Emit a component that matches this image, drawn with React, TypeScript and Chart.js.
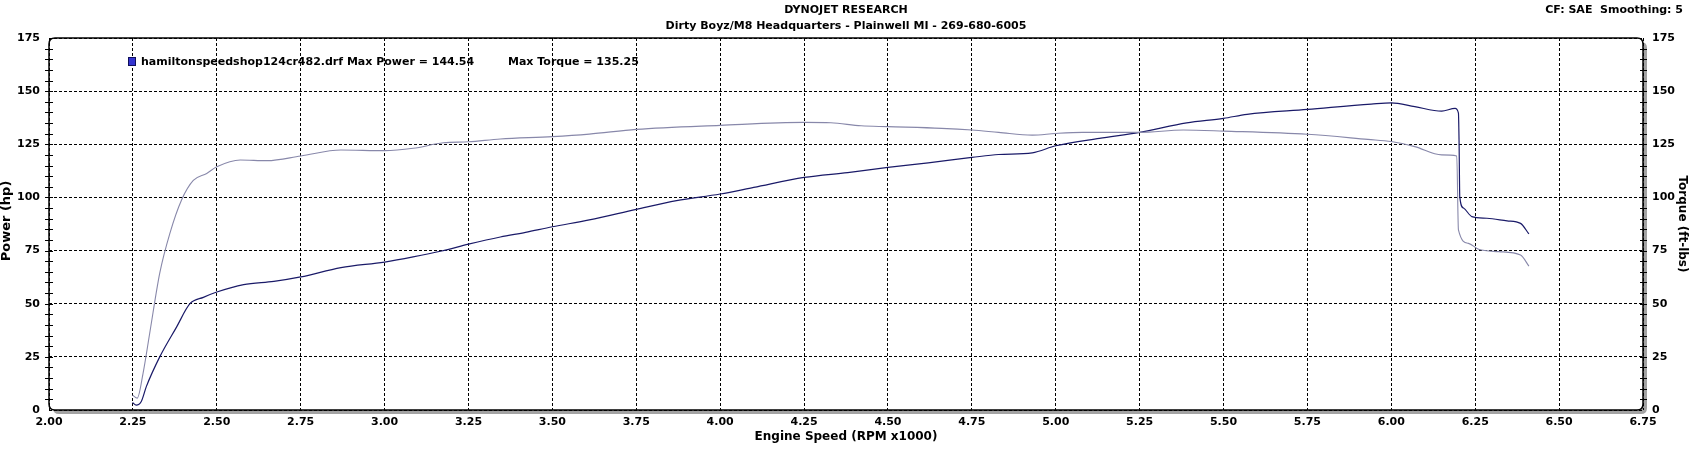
import React, { useEffect, useRef } from 'react';
import { Chart, registerables } from 'chart.js';

Chart.register(...registerables);
Chart.defaults.font.family = '"DejaVu Sans", Verdana, sans-serif';

// ---- data ----
const powerRpm = [
  2.249, 2.26, 2.275, 2.29, 2.33, 2.38, 2.42, 2.46, 2.5, 2.58, 2.67, 2.75, 2.87, 3.0, 3.085, 3.17, 3.25,
  3.345, 3.42, 3.5, 3.61, 3.75, 3.87, 4.0, 4.1, 4.25, 4.38, 4.5, 4.62, 4.75, 4.83, 4.93, 5.0, 5.13, 5.25,
  5.39, 5.5, 5.57, 5.75, 5.94, 6.0, 6.07, 6.15, 6.19, 6.2, 6.202, 6.204, 6.215, 6.24, 6.285, 6.345, 6.385, 6.41,
];
const powerHp = [
  3.5, 2.3, 4, 11, 25, 39, 50, 53, 55.5, 59, 60.5, 62.6, 67, 69.6, 72, 74.8, 78,
  81.4, 83.6, 86.2, 89.4, 94.4, 98.5, 101.6, 104.7, 109.4, 111.7, 114.1, 116.3, 118.8, 120.2, 121, 124.3, 127.8, 130.6,
  135.1, 137.2, 139.1, 141.4, 143.9, 144.5, 142.7, 140.6, 141.9, 139.7, 125, 100.3, 95, 91, 90.2, 89, 87.8, 82.8,
];

const torqueRpm = [
  2.249, 2.263, 2.28, 2.3, 2.33, 2.36, 2.395, 2.43, 2.47, 2.5, 2.57, 2.65, 2.75, 2.87, 3.0, 3.085, 3.175,
  3.25, 3.345, 3.5, 3.61, 3.75, 4.0, 4.25, 4.33, 4.42, 4.5, 4.66, 4.75, 4.83, 4.93, 5.0, 5.08, 5.25, 5.38,
  5.5, 5.75, 5.93, 6.0, 6.07, 6.15, 6.195, 6.2, 6.23, 6.26, 6.32, 6.385, 6.41,
];
const torqueFtLbs = [
  7, 5.6, 17, 36, 64.4, 83, 98.8, 108, 111.3, 114.4, 117.6, 117.3, 119.5, 122.3, 122, 123.1, 125.7,
  126.2, 127.5, 128.6, 129.8, 132, 133.9, 135.3, 135.1, 133.7, 133.3, 132.5, 131.7, 130.6, 129.3, 130.1, 130.6, 130.6, 131.7,
  131.2, 129.7, 127.3, 126.3, 123.9, 120, 119.5, 84.7, 78.4, 75.6, 74.5, 72.9, 67.7,
];

const rpmTicks = [2, 2.25, 2.5, 2.75, 3, 3.25, 3.5, 3.75, 4, 4.25, 4.5, 4.75, 5, 5.25, 5.5, 5.75, 6, 6.25, 6.5, 6.75];
const valueTicks = [0, 25, 50, 75, 100, 125, 150, 175];

const POWER_COLOR = '#1a1a68';
const TORQUE_COLOR = '#8888aa';
const BOLD11 = 'bold 11px "DejaVu Sans", Verdana, sans-serif';

const roundRectPath = (ctx: CanvasRenderingContext2D, x: number, y: number, w: number, h: number, r: number) => {
  ctx.beginPath();
  ctx.moveTo(x + r, y);
  ctx.lineTo(x + w - r, y);
  ctx.quadraticCurveTo(x + w, y, x + w, y + r);
  ctx.lineTo(x + w, y + h - r);
  ctx.quadraticCurveTo(x + w, y + h, x + w - r, y + h);
  ctx.lineTo(x + r, y + h);
  ctx.quadraticCurveTo(x, y + h, x, y + h - r);
  ctx.lineTo(x, y + r);
  ctx.quadraticCurveTo(x, y, x + r, y);
  ctx.closePath();
};

// frame, shadow, minor ticks and all the sheet texts
const dynoSheet = {
  id: 'dynoSheet',
  beforeDraw(chart: Chart) {
    const { ctx, chartArea: a } = chart;
    const w = a.right - a.left;
    const h = a.bottom - a.top;
    ctx.save();
    ctx.fillStyle = '#a3a3a3';
    roundRectPath(ctx, a.left + 4, a.top + 4, w, h, 6);
    ctx.fill();
    ctx.fillStyle = '#ffffff';
    roundRectPath(ctx, a.left, a.top, w, h, 6);
    ctx.fill();
    ctx.restore();
  },
  afterDraw(chart: Chart) {
    const { ctx, chartArea: a } = chart;
    const y = chart.scales.y;
    ctx.save();
    ctx.strokeStyle = '#000';
    ctx.lineWidth = 1.5;
    roundRectPath(ctx, a.left, a.top, a.right - a.left, a.bottom - a.top, 6);
    ctx.stroke();

    // minor ticks every 5 on both value axes
    ctx.lineWidth = 1;
    ctx.beginPath();
    for (let v = 5; v < 175; v += 5) {
      const py = Math.round(y.getPixelForValue(v)) + 0.5;
      ctx.moveTo(a.left - 4, py);
      ctx.lineTo(a.left + 4, py);
      ctx.moveTo(a.right - 3, py);
      ctx.lineTo(a.right + 4, py);
    }
    ctx.stroke();

    ctx.fillStyle = '#000';
    ctx.font = BOLD11;
    ctx.textBaseline = 'middle';
    ctx.textAlign = 'center';
    ctx.fillText('DYNOJET RESEARCH', 846, 10);
    ctx.fillText('Dirty Boyz/M8 Headquarters - Plainwell MI - 269-680-6005', 846, 26);
    ctx.textAlign = 'right';
    ctx.fillText('CF: SAE  Smoothing: 5', 1683, 10);

    // legend
    ctx.fillStyle = '#3434d0';
    ctx.fillRect(128, 57, 8, 9);
    ctx.strokeStyle = '#10105a';
    ctx.strokeRect(128.5, 57.5, 7, 8);
    ctx.fillStyle = '#000';
    ctx.textAlign = 'left';
    ctx.fillText('hamiltonspeedshop124cr482.drf Max Power = 144.54', 141, 62);
    ctx.fillText('Max Torque = 135.25', 508, 62);

    // axis titles
    ctx.textAlign = 'center';
    ctx.font = 'bold 12px "DejaVu Sans", Verdana, sans-serif';
    ctx.fillText('Engine Speed (RPM x1000)', 846, 437);
    ctx.save();
    ctx.translate(1682, 224);
    ctx.rotate(Math.PI / 2);
    ctx.fillText('Torque (ft-lbs)', 0, 0);
    ctx.restore();
    ctx.save();
    ctx.translate(7, 221);
    ctx.rotate(-Math.PI / 2);
    ctx.font = 'bold 13px "DejaVu Sans", Verdana, sans-serif';
    ctx.fillText('Power (hp)', 0, 0);
    ctx.restore();
    ctx.restore();
  },
};

const DynoChart: React.FC = () => {
  const canvasRef = useRef<HTMLCanvasElement>(null);

  useEffect(() => {
    if (!canvasRef.current) return;
    const tickFont = { family: '"DejaVu Sans", Verdana, sans-serif', size: 11, weight: 'bold' as const };
    const valueAxis = (position: 'left' | 'right', width: number, showGrid: boolean) => ({
      position,
      min: 0,
      max: 175,
      afterBuildTicks: (s: any) => {
        s.ticks = valueTicks.map((v) => ({ value: v }));
      },
      ticks: { font: tickFont, color: '#000', padding: 9 },
      grid: { display: showGrid, color: '#000', lineWidth: 1, drawTicks: false },
      border: { display: false, dash: [3, 2] },
      afterFit: (s: any) => {
        s.width = width;
      },
    });

    const chart = new Chart(canvasRef.current, {
      type: 'line',
      data: {
        datasets: [
          {
            label: 'Torque',
            data: torqueRpm.map((x, i) => ({ x, y: torqueFtLbs[i] })),
            borderColor: TORQUE_COLOR,
            borderWidth: 1.1,
            pointRadius: 0,
            cubicInterpolationMode: 'monotone',
            yAxisID: 'y2',
          },
          {
            label: 'Power',
            data: powerRpm.map((x, i) => ({ x, y: powerHp[i] })),
            borderColor: POWER_COLOR,
            borderWidth: 1.2,
            pointRadius: 0,
            cubicInterpolationMode: 'monotone',
            yAxisID: 'y',
          },
        ],
      },
      options: {
        animation: false,
        responsive: false,
        devicePixelRatio: 1,
        layout: { padding: { top: 38, left: 0, right: 0, bottom: 0 } },
        plugins: { legend: { display: false }, tooltip: { enabled: false } },
        scales: {
          x: {
            type: 'linear',
            min: 2,
            max: 6.75,
            afterBuildTicks: (s: any) => {
              s.ticks = rpmTicks.map((v) => ({ value: v }));
            },
            ticks: {
              font: tickFont,
              color: '#000',
              padding: 6,
              maxRotation: 0,
              autoSkip: false,
              callback: (v: any) => Number(v).toFixed(2),
            },
            grid: { color: '#000', lineWidth: 1, drawTicks: false },
            border: { display: false, dash: [3, 2] },
            afterFit: (s: any) => {
              s.height = 60;
            },
          },
          y: valueAxis('left', 49, true) as any,
          y2: valueAxis('right', 48, false) as any,
        },
      },
      plugins: [dynoSheet],
    });
    return () => chart.destroy();
  }, []);

  return <canvas ref={canvasRef} width={1691} height={470} />;
};

export default function App() {
  return (
    <div style={{ position: 'absolute', left: 0, top: 0, width: 1691, height: 470, background: '#fff' }}>
      <DynoChart />
    </div>
  );
}
